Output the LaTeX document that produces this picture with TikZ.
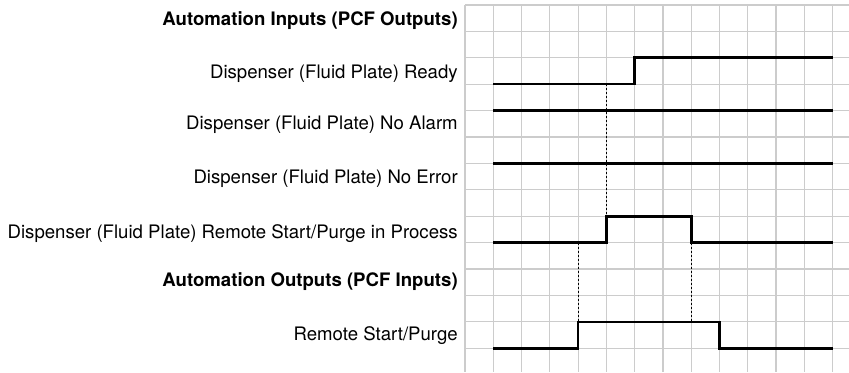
\documentclass[tikz,border=0pt]{standalone}
\usepackage{fontspec}
\setmainfont{TeX Gyre Heros}
\usepackage{xcolor}
\usepackage{tikz}
\usetikzlibrary{positioning}

\begin{document}
\begin{tikzpicture}[
      x=28.28pt,y=-26.4pt,
      font=\fontsize{18.6}{21}\selectfont,
      gridline/.style={draw=gray!40,line width=1.2pt},
      signal/.style={draw=black,line width=2.6pt},
      sync/.style={draw=black,line width=1.1pt,dash pattern=on 2pt off 2pt},
      lbl/.style={anchor=base east,inner sep=0pt},
      head/.style={lbl,font=\fontsize{18.6}{21}\selectfont\bfseries}
    ]
      \useasboundingbox (-16.442,-0.189) rectangle (13.578,13.902);

      % grid
      \foreach \r in {0,...,13}
        \draw[gridline] (0,\r) -- (13.578,\r);
      \foreach \c in {0,...,13}
        \draw[gridline] (\c,0) -- (\c,13.902);

      % labels
      \node[head] (inhead) at (-0.25,0.76) {Automation Inputs (PCF Outputs)};
      \node[lbl] (ready) at (-0.25,2.80) {Dispenser (Fluid Plate) Ready};
      \node[lbl] (alarm) at (-0.25,4.70) {Dispenser (Fluid Plate) No Alarm};
      \node[lbl] (error) at (-0.25,6.75) {Dispenser (Fluid Plate) No Error};
      \node[lbl] (inproc) at (-0.25,8.84) {Dispenser (Fluid Plate) Remote Start/Purge in Process};
      \node[head] (outhead) at (-0.25,10.67) {Automation Outputs (PCF Inputs)};
      \node[lbl] (start) at (-0.25,12.69) {Remote Start/Purge};

      % dotted sync lines
      \draw[sync] (5,3) -- (5,8);
      \draw[sync] (4,9) -- (4,12);
      \draw[sync] (8,9) -- (8,12);

      % signals
      \draw[signal] (1,3) -- (6,3) -- (6,2) -- (13,2);
      \draw[signal] (1,4) -- (13,4);
      \draw[signal] (1,6) -- (13,6);
      \draw[signal] (1,9) -- (5,9) -- (5,8) -- (8,8) -- (8,9) -- (13,9);
      \draw[signal] (1,13) -- (4,13) -- (4,12) -- (9,12) -- (9,13) -- (13,13);
    \end{tikzpicture}
\end{document}
